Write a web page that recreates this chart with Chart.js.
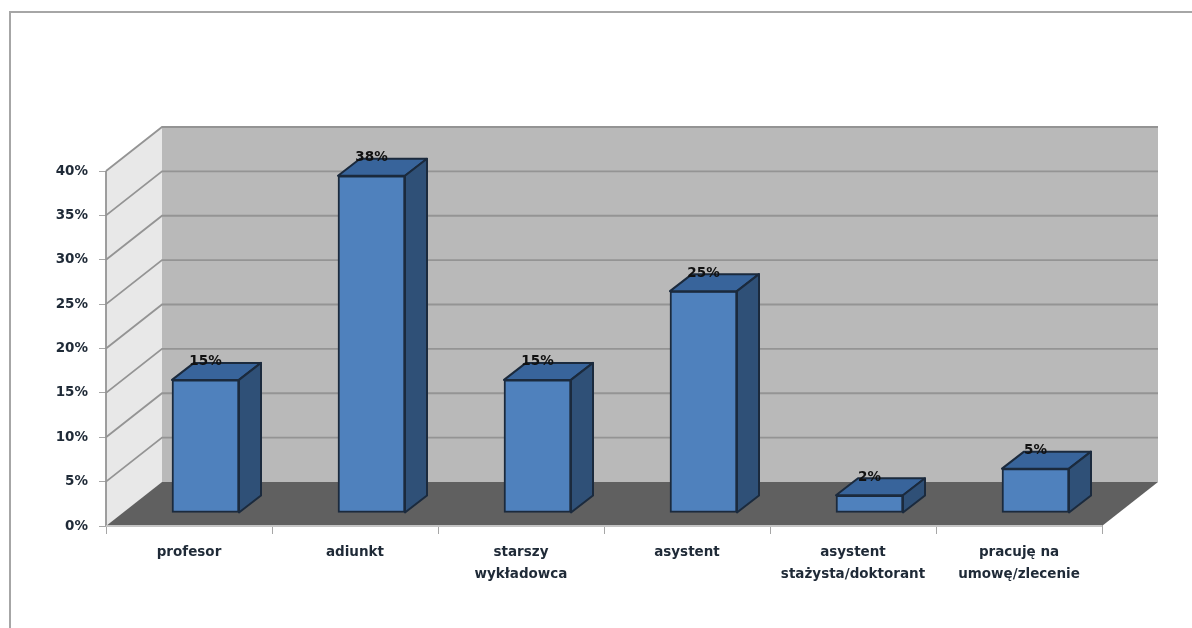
<!DOCTYPE html>
<html>
<head>
<meta charset="utf-8">
<style>
body { margin: 0; background: #fff; }
canvas { display: block; }
</style>
<script src="https://cdn.jsdelivr.net/npm/chart.js@4"></script>
</head>
<body>
<canvas id="chart" width="1192" height="628"></canvas>
<script>
const categories = [
    'profesor',
    'adiunkt',
    ['starszy', 'wykładowca'],
    'asystent',
    ['asystent', 'stażysta/doktorant'],
    ['pracuję na', 'umowę/zlecenie']
];
const shares = [15, 38, 15, 25, 2, 5];
const yTicks = [0, 5, 10, 15, 20, 25, 30, 35, 40];

const font = '"DejaVu Sans", sans-serif';
const wallDepth = { x: 56, y: 44 };
const barDepth = { x: 22, y: 17 };
const barShift = { x: 16.5, y: -13 };

// walls, floor and gridlines of the fake 3D box
const box = {
    id: 'box',
    beforeDatasetsDraw(chart) {
        const { ctx, chartArea: a, scales: { y } } = chart;
        const dx = wallDepth.x, dy = wallDepth.y;
        const poly = (pts, fill) => {
            ctx.beginPath();
            pts.forEach((p, i) => i ? ctx.lineTo(p[0], p[1]) : ctx.moveTo(p[0], p[1]));
            ctx.closePath();
            ctx.fillStyle = fill;
            ctx.fill();
        };
        ctx.save();

        // outer frame
        ctx.strokeStyle = '#a6a6a6';
        ctx.lineWidth = 2;
        ctx.beginPath();
        ctx.moveTo(10, 628);
        ctx.lineTo(10, 12);
        ctx.lineTo(1192, 12);
        ctx.stroke();

        poly([[a.left + dx, a.top - dy], [a.right + dx, a.top - dy], [a.right + dx, a.bottom - dy], [a.left + dx, a.bottom - dy]], '#b9b9b9');
        poly([[a.left, a.top], [a.left + dx, a.top - dy], [a.left + dx, a.bottom - dy], [a.left, a.bottom]], '#e8e8e8');
        poly([[a.left, a.bottom], [a.left + dx, a.bottom - dy], [a.right + dx, a.bottom - dy], [a.right, a.bottom]], '#606060');

        ctx.strokeStyle = '#949494';
        ctx.lineWidth = 1.8;
        yTicks.forEach(v => {
            if (v === 0) return;
            const py = y.getPixelForValue(v);
            ctx.beginPath();
            ctx.moveTo(a.left, py);
            ctx.lineTo(a.left + dx, py - dy);
            ctx.lineTo(a.right + dx, py - dy);
            ctx.stroke();
        });

        ctx.beginPath();
        ctx.moveTo(a.left, a.bottom);
        ctx.lineTo(a.left, a.top);
        ctx.stroke();

        ctx.strokeStyle = '#c4c4c4';
        ctx.beginPath();
        ctx.moveTo(a.left, a.bottom);
        ctx.lineTo(a.right, a.bottom);
        ctx.stroke();
        ctx.restore();

        // bars stand a little way back from the front edge of the floor
        ctx.save();
        ctx.translate(barShift.x, barShift.y);
    },
    afterDatasetsDraw(chart) {
        const { ctx } = chart;
        const bars = chart.getDatasetMeta(0).data;
        const dx = barDepth.x, dy = barDepth.y;
        ctx.lineWidth = 2;
        ctx.strokeStyle = '#1b2a3d';
        ctx.lineJoin = 'round';
        bars.forEach(bar => {
            const { x, y, base, width } = bar.getProps(['x', 'y', 'base', 'width'], true);
            const l = x - width / 2, r = x + width / 2;
            ctx.beginPath();
            ctx.moveTo(l, y);
            ctx.lineTo(l + dx, y - dy);
            ctx.lineTo(r + dx, y - dy);
            ctx.lineTo(r, y);
            ctx.closePath();
            ctx.fillStyle = '#38649b';
            ctx.fill();
            ctx.stroke();

            ctx.beginPath();
            ctx.moveTo(r, y);
            ctx.lineTo(r + dx, y - dy);
            ctx.lineTo(r + dx, base - dy);
            ctx.lineTo(r, base);
            ctx.closePath();
            ctx.fillStyle = '#2f5077';
            ctx.fill();
            ctx.stroke();
        });

        ctx.font = 'bold 13.5px ' + font;
        ctx.fillStyle = '#111';
        ctx.textAlign = 'center';
        ctx.textBaseline = 'middle';
        bars.forEach((bar, i) => {
            const { x, y } = bar.getProps(['x', 'y'], true);
            ctx.fillText(shares[i] + '%', x, y - 18);
        });
        ctx.restore();
    }
};

new Chart(document.getElementById('chart'), {
    type: 'bar',
    data: {
        labels: categories,
        datasets: [{
            data: shares,
            backgroundColor: '#4f81bd',
            borderColor: '#1b2a3d',
            borderWidth: 2,
            borderSkipped: false,
            barThickness: 67,
            clip: false
        }]
    },
    options: {
        responsive: false,
        animation: false,
        layout: { padding: { left: 0, top: 171, right: 90, bottom: 0 } },
        plugins: { legend: { display: false }, tooltip: { enabled: false } },
        scales: {
            x: {
                afterFit: s => { s.height = 102; },
                grid: { drawOnChartArea: false, color: '#a6a6a6', tickLength: 8, offset: true },
                border: { display: false },
                ticks: {
                    color: '#1f2a37',
                    padding: 7,
                    maxRotation: 0,
                    autoSkip: false,
                    font: { family: font, size: 13.5, weight: 'bold', lineHeight: '22px' }
                }
            },
            y: {
                min: 0,
                max: 40,
                afterFit: s => { s.width = 106; },
                afterBuildTicks: s => { s.ticks = yTicks.map(value => ({ value })); },
                grid: { drawOnChartArea: false, color: '#a6a6a6', tickLength: 7 },
                border: { display: false },
                ticks: {
                    color: '#1f2a37',
                    padding: 11,
                    callback: v => v + '%',
                    font: { family: font, size: 13.5, weight: 'bold' }
                }
            }
        }
    },
    plugins: [box]
});
</script>
</body>
</html>
